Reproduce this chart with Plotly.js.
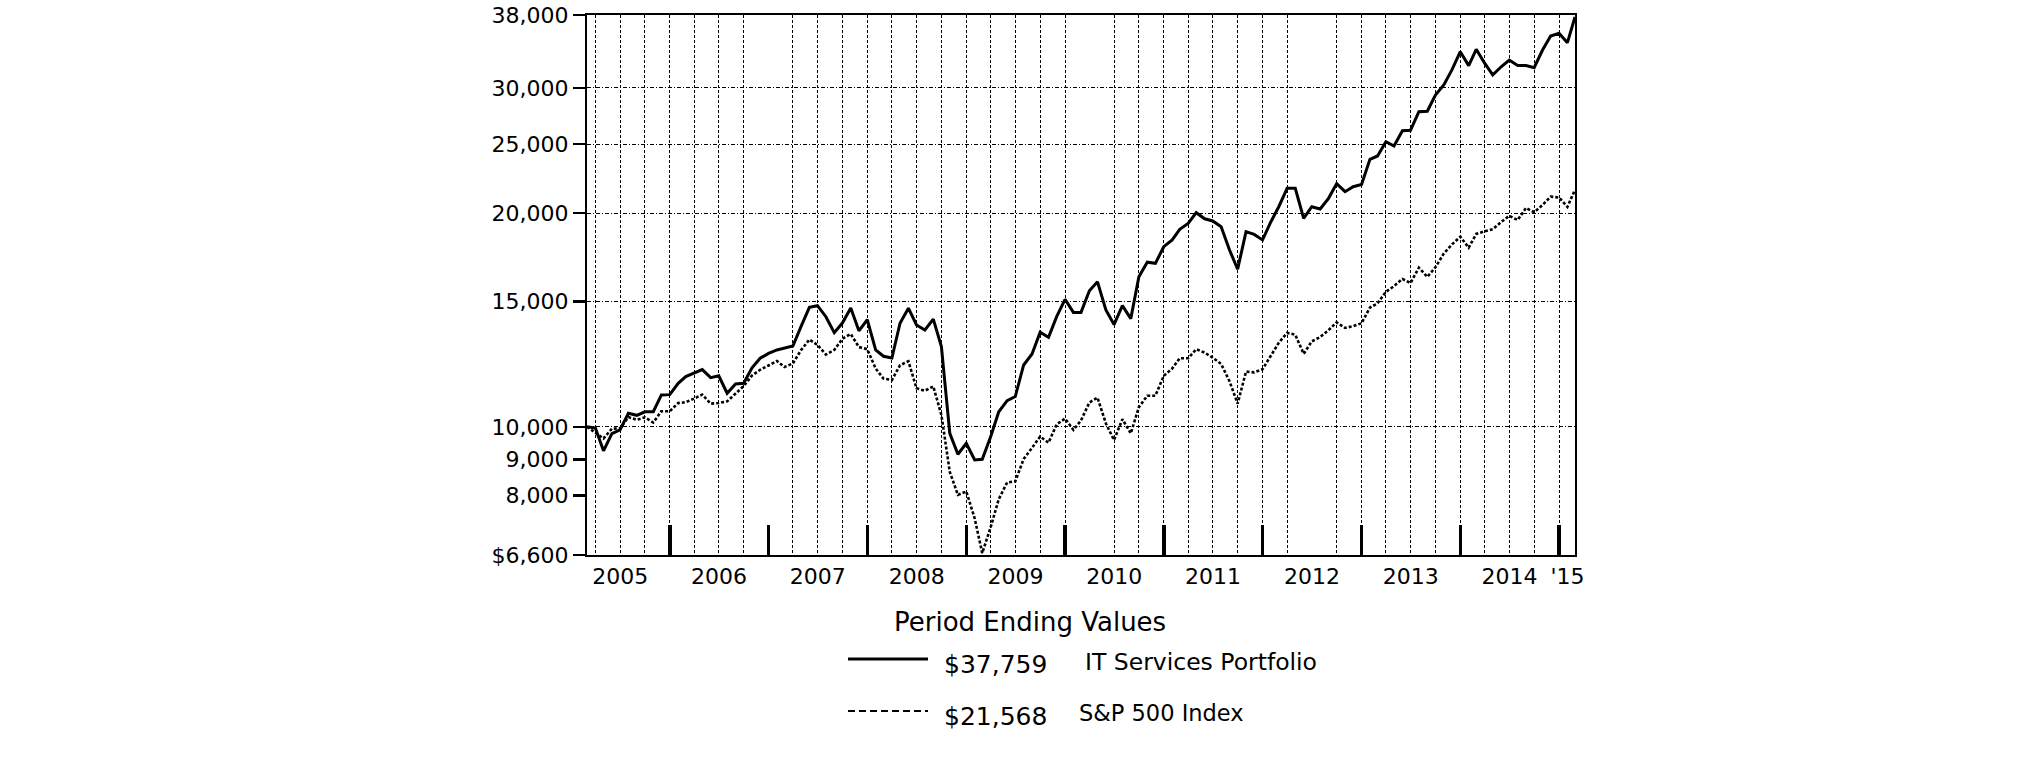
<!DOCTYPE html>
<html>
<head>
<meta charset="utf-8">
<script src="https://cdn.plot.ly/plotly-3.0.1.min.js"></script>
<style>
  html, body { margin: 0; padding: 0; background: #fff; }
  #chart { width: 2026px; height: 763px; }
</style>
</head>
<body>
<div id="chart"></div>
<script>
// ---------------- DATA ----------------
// Monthly period-ending values, starting end of Feb 2005, ending end of Feb 2015
const startYear = 2005;
const startMonth = 2; // February

const itServices = [
  10000, 9960, 9250, 9780, 9900, 10450, 10380, 10500, 10500, 11090,
  11100, 11515, 11770, 11900, 12040, 11730, 11800, 11150, 11490, 11515,
  12110, 12490, 12690, 12830, 12910, 12995, 13835, 14730, 14810, 14290,
  13570, 14000, 14700, 13650, 14150, 12830, 12570, 12500, 13990, 14690,
  13910, 13690, 14180, 12970, 9790, 9150, 9480, 8980, 9000, 9680,
  10500, 10885, 11030, 12220, 12665, 13585, 13365, 14290, 15120, 14490,
  14490, 15540, 16000, 14605, 13930, 14810, 14200, 16270, 17050, 16990,
  17930, 18330, 18970, 19340, 20020, 19630, 19490, 19130, 17740, 16665,
  18825, 18660, 18330, 19445, 20410, 21670, 21670, 19660, 20410, 20260,
  20975, 22000, 21430, 21780, 21940, 23800, 24060, 25200, 24850, 26115,
  26150, 27770, 27820, 29320, 30290, 31800, 33740, 32250, 34000, 32500,
  31290, 32130, 32840, 32250, 32250, 32040, 33925, 35500, 35810, 34740,
  37759
];

const sp500 = [
  10000, 9820, 9630, 9940, 9950, 10320, 10230, 10310, 10140, 10520,
  10520, 10800, 10830, 10960, 11100, 10780, 10800, 10860, 11120, 11410,
  11810, 12030, 12200, 12380, 12140, 12280, 12820, 13270, 13040, 12640,
  12830, 13300, 13510, 12950, 12860, 12080, 11690, 11640, 12210, 12370,
  11330, 11240, 11400, 10390, 8640, 8020, 8110, 7430, 6640, 7220,
  7910, 8350, 8380, 9010, 9340, 9690, 9500, 10080, 10270, 9900,
  10210, 10820, 10990, 10110, 9580, 10250, 9790, 10660, 11060, 11060,
  11800, 12080, 12490, 12490, 12860, 12720, 12510, 12260, 11590, 10780,
  11960, 11930, 12050, 12590, 13130, 13560, 13480, 12670, 13190, 13380,
  13680, 14030, 13780, 13860, 13990, 14720, 14920, 15490, 15780, 16150,
  15940, 16750, 16260, 16770, 17540, 18060, 18520, 17870, 18690, 18850,
  18970, 19420, 19820, 19550, 20330, 20050, 20530, 21090, 21030, 20400,
  21568
];

const seriesNames = ["IT Services Portfolio", "S&P 500 Index"];

const yTickVals  = [6600, 8000, 9000, 10000, 15000, 20000, 25000, 30000, 38000];
const yTickText  = ["$6,600", "8,000", "9,000", "10,000", "15,000", "20,000", "25,000", "30,000", "38,000"];
const yGridVals  = [10000, 15000, 20000, 25000, 30000];
const yRange     = [6600, 38000];

const xRange = ["2005-02-28", "2015-02-28"];

const xGridDates = [
  "2005-03-31", "2005-06-30", "2005-09-30", "2005-12-31",
  "2006-03-31", "2006-06-30", "2006-09-30",
  "2007-03-31", "2007-06-30", "2007-09-30", "2007-12-31",
  "2008-03-31", "2008-06-30", "2008-09-30", "2008-12-31",
  "2009-03-31", "2009-06-30", "2009-09-30", "2009-12-31",
  "2010-06-30", "2010-09-30", "2010-12-31",
  "2011-03-31", "2011-06-30", "2011-09-30", "2011-12-31",
  "2012-03-31", "2012-09-30", "2012-12-31",
  "2013-03-31", "2013-06-30", "2013-09-30", "2013-12-31",
  "2014-03-31", "2014-06-30", "2014-09-30", "2014-12-31"
];

const yearTickDates = [
  "2005-12-31", "2006-12-31", "2007-12-31", "2008-12-31", "2009-12-31",
  "2010-12-31", "2011-12-31", "2012-12-31", "2013-12-31", "2014-12-31"
];

const yearLabelDates = [
  "2005-07-01", "2006-07-01", "2007-07-01", "2008-07-01", "2009-07-01",
  "2010-07-01", "2011-07-01", "2012-07-01", "2013-07-01", "2014-07-01", "2015-01-31"
];
const yearLabelText = ["2005", "2006", "2007", "2008", "2009", "2010", "2011", "2012", "2013", "2014", "'15"];

// ---------------- HELPERS ----------------
function monthEnd(i) {
  const d = new Date(Date.UTC(startYear, startMonth - 1 + i + 1, 0));
  return d.toISOString().slice(0, 10);
}
const dates = itServices.map((_, i) => monthEnd(i));
function fmt(v) { return "$" + String(Math.round(v)).replace(/\B(?=(\d{3})+(?!\d))/g, ","); }

const FONT = "DejaVu Sans, Liberation Sans, Arial, sans-serif";

// ---------------- TRACES ----------------
const traces = [
  {
    x: dates, y: itServices, name: seriesNames[0], type: "scatter", mode: "lines",
    line: { color: "#000", width: 3 }, hoverinfo: "skip"
  },
  {
    x: dates, y: sp500, name: seriesNames[1], type: "scatter", mode: "lines",
    line: { color: "#000", width: 2.6, dash: "3px,2px" }, hoverinfo: "skip"
  },
  // invisible helpers so the overlay axes are drawn
  { x: xRange, y: yRange, xaxis: "x2", yaxis: "y2", mode: "lines", line: { width: 0 }, hoverinfo: "skip", showlegend: false, opacity: 0 },
  { x: xRange, y: yRange, xaxis: "x3", yaxis: "y", mode: "lines", line: { width: 0 }, hoverinfo: "skip", showlegend: false, opacity: 0 }
];

// ---------------- LAYOUT ----------------
const L = 587, R = 1575, T = 15, B = 555, W = 2026, H = 763;
const px = v => (v - L) / (R - L);
const py = v => (B - v) / (B - T);

const layout = {
  width: W, height: H,
  margin: { l: L, r: W - R, t: T, b: H - B, pad: 0 },
  paper_bgcolor: "#fff", plot_bgcolor: "#fff",
  showlegend: false,
  font: { family: FONT, color: "#000", size: 22 },
  xaxis: {
    type: "date", range: xRange,
    tickmode: "array", tickvals: xGridDates, showticklabels: false, ticks: "",
    showgrid: true, gridcolor: "#000", gridwidth: 1, griddash: "3px,2px",
    showline: true, linecolor: "#000", linewidth: 2, mirror: true,
    zeroline: false, fixedrange: true
  },
  xaxis2: {
    type: "date", range: xRange, overlaying: "x", anchor: "y", side: "bottom",
    tickmode: "array", tickvals: yearTickDates, showticklabels: false,
    ticks: "inside", ticklen: 30, tickwidth: 3.5, tickcolor: "#000",
    showgrid: false, showline: false, zeroline: false, fixedrange: true
  },
  xaxis3: {
    type: "date", range: xRange, overlaying: "x", anchor: "y", side: "bottom",
    tickmode: "array", tickvals: yearLabelDates, ticktext: yearLabelText,
    ticks: "", showgrid: false, showline: false, zeroline: false,
    tickfont: { family: FONT, size: 22, color: "#000" }, tickangle: 0,
    ticklabelstandoff: 6, fixedrange: true
  },
  yaxis: {
    type: "log", range: [Math.log10(yRange[0]), Math.log10(yRange[1])],
    tickmode: "array", tickvals: yTickVals, ticktext: yTickText,
    ticks: "outside", ticklen: 12, tickwidth: 2.5, tickcolor: "#000",
    showgrid: false, showline: true, linecolor: "#000", linewidth: 2, mirror: true,
    zeroline: false, tickfont: { family: FONT, size: 22, color: "#000" },
    fixedrange: true
  },
  yaxis2: {
    type: "log", range: [Math.log10(yRange[0]), Math.log10(yRange[1])],
    overlaying: "y", anchor: "x", side: "left",
    tickmode: "array", tickvals: yGridVals, showticklabels: false, ticks: "",
    showgrid: true, gridcolor: "#000", gridwidth: 1, griddash: "4px,2px,1px,2px",
    showline: false, zeroline: false, fixedrange: true
  },
  shapes: [
    { type: "line", xref: "paper", yref: "paper", x0: px(848), x1: px(928), y0: py(659), y1: py(659),
      line: { color: "#000", width: 3 } },
    { type: "line", xref: "paper", yref: "paper", x0: px(848), x1: px(928), y0: py(711), y1: py(711),
      line: { color: "#000", width: 2, dash: "7px,4px" } }
  ],
  annotations: [
    { xref: "paper", yref: "paper", x: px(1030), y: py(622), xanchor: "center", yanchor: "middle",
      text: "Period Ending Values", showarrow: false, font: { family: FONT, size: 26, color: "#000" } },
    { xref: "paper", yref: "paper", x: px(942), y: py(664), xanchor: "left", yanchor: "middle",
      text: fmt(itServices[itServices.length - 1]), showarrow: false, font: { family: FONT, size: 25, color: "#000" } },
    { xref: "paper", yref: "paper", x: px(1083), y: py(662), xanchor: "left", yanchor: "middle",
      text: seriesNames[0], showarrow: false, font: { family: FONT, size: 23.5, color: "#000" } },
    { xref: "paper", yref: "paper", x: px(942), y: py(716), xanchor: "left", yanchor: "middle",
      text: fmt(sp500[sp500.length - 1]), showarrow: false, font: { family: FONT, size: 25, color: "#000" } },
    { xref: "paper", yref: "paper", x: px(1077), y: py(713), xanchor: "left", yanchor: "middle",
      text: seriesNames[1], showarrow: false, font: { family: FONT, size: 22.5, color: "#000" } }
  ]
};

Plotly.newPlot("chart", traces, layout, { displayModeBar: false, staticPlot: true });
</script>
</body>
</html>
